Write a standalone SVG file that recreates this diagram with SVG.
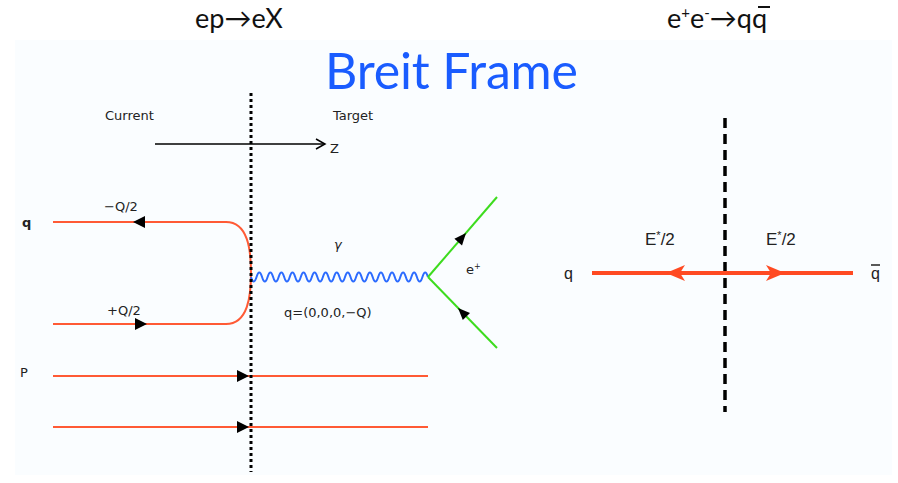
<svg xmlns="http://www.w3.org/2000/svg" width="898" height="483" viewBox="0 0 898 483">
<style>
.title{font-family:Lato,"Open Sans",sans-serif;fill:#111}
.lbl{font-family:"DejaVu Sans",sans-serif;font-size:13px;fill:#222}
.cond{font-family:"Liberation Sans",sans-serif;fill:#222}
.q{stroke:#ff5a35;stroke-width:2;fill:none}
.g{stroke:#3ddc1e;stroke-width:2;fill:none}
.head{fill:#000}
</style>
<rect x="0" y="0" width="898" height="483" fill="#fff"/>
<rect x="15" y="40" width="877" height="435" fill="#fafdff"/>
<text class="title" x="195" y="28" font-size="27">ep→eX</text>
<text class="title" x="667" y="28" font-size="27">e<tspan font-size="15" dy="-10">+</tspan><tspan dy="10">e</tspan><tspan font-size="15" dy="-10">-</tspan><tspan dy="10">→qq</tspan></text>
<line x1="758" y1="7" x2="770" y2="7" stroke="#111" stroke-width="2"/>
<text x="325" y="89" font-family="Lato,'Open Sans',sans-serif" font-size="50" fill="#1a5cff" textLength="253">Breit Frame</text>
<g id="labels-left">
<text class="lbl" x="105" y="120">Current</text>
<text class="lbl" x="333" y="120">Target</text>
<text class="lbl" x="330" y="153">Z</text>
<text class="lbl" x="22" y="227" font-size="15" font-weight="bold">q</text>
<text class="lbl" x="104" y="211">−Q/2</text>
<text class="lbl" x="107" y="315">+Q/2</text>
<text class="lbl" x="20" y="377">P</text>
<text class="lbl" x="334" y="249" font-style="italic">γ</text>
<text class="lbl" x="284" y="317">q=(0,0,0,−Q)</text>
<text class="lbl" x="466" y="274" font-size="12">e<tspan font-size="8" dy="-5">+</tspan></text>
</g>
<g id="axis">
<line x1="155" y1="144" x2="325" y2="144" stroke="#000" stroke-width="1.5"/>
<polyline points="316,139 325,144 316,149" stroke="#000" stroke-width="1.5" fill="none"/>
</g>
<g id="connectors">
<path id="quark" class="q" d="M53,222 H226 C248,222 251,250 251,273 C251,296 248,324 226,324 H53"/>
<line id="p1" class="q" x1="53" y1="376" x2="428" y2="376"/>
<line id="p2" class="q" x1="53" y1="427" x2="428" y2="427"/>
<path id="photon" stroke="#2b6bff" stroke-width="2" fill="none" d="M251,277 q2.77,9 5.53,0 t5.53,0 t5.53,0 t5.53,0 t5.53,0 t5.53,0 t5.53,0 t5.53,0 t5.53,0 t5.53,0 t5.53,0 t5.53,0 t5.53,0 t5.53,0 t5.53,0 t5.53,0 t5.53,0 t5.53,0 t5.53,0 t5.53,0 t5.53,0 t5.53,0 t5.53,0 t5.53,0 t5.53,0 t5.53,0 t5.53,0 t5.53,0 t5.53,0 t5.53,0 t5.53,0 t5.53,0"/>
<line class="g" x1="428" y1="277" x2="497" y2="197"/>
<line class="g" x1="428" y1="277" x2="497" y2="348"/>
<polygon class="head" points="133,222 145,216 145,228"/>
<polygon class="head" points="147,324 135,318 135,330"/>
<polygon class="head" points="249,376 237,370 237,382"/>
<polygon class="head" points="249,427 237,421 237,433"/>
<polygon class="head" points="466,233 462,245.4 454.4,238.8"/>
<polygon class="head" points="458,308 470,313.1 462.8,320.1"/>
</g>
<line id="divider-left" x1="251" y1="93" x2="251" y2="472" stroke="#000" stroke-width="3" stroke-dasharray="3,3"/>
<g id="right">
<line x1="725" y1="118" x2="725" y2="412" stroke="#000" stroke-width="3.5" stroke-dasharray="10,6"/>
<line x1="592" y1="273" x2="853" y2="273" stroke="#ff4a22" stroke-width="4"/>
<polygon points="666,273 685,265 680,273 685,281" fill="#ff4a22"/>
<polygon points="785,273 766,265 771,273 766,281" fill="#ff4a22"/>
<text class="cond" x="564" y="279" font-size="16">q</text>
<text class="cond" x="871" y="279" font-size="16">q</text>
<line x1="871" y1="265" x2="880" y2="265" stroke="#222" stroke-width="1.5"/>
<text class="cond" x="645" y="245" font-size="17">E<tspan font-size="11" dy="-6">*</tspan><tspan dy="6">/2</tspan></text>
<text class="cond" x="766" y="245" font-size="17">E<tspan font-size="11" dy="-6">*</tspan><tspan dy="6">/2</tspan></text>
</g>
</svg>
